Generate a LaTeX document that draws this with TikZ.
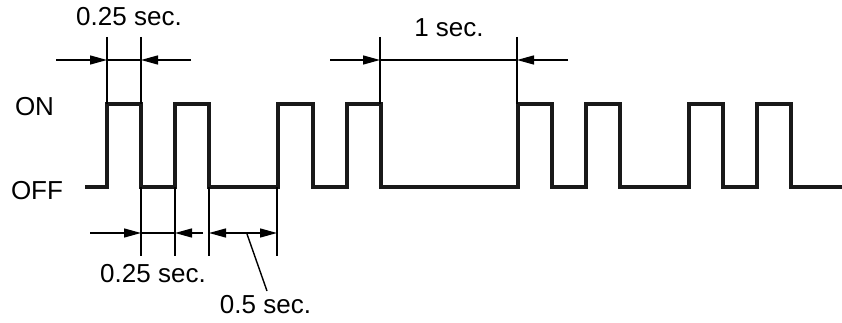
\documentclass[tikz,border=0pt]{standalone}
\usepackage{fontspec}
\setmainfont{Liberation Sans}
\usetikzlibrary{arrows.meta}
\begin{document}
\begin{tikzpicture}[x=1pt,y=-1pt,
  wave/.style={line width=3.3pt,line join=miter,draw=black!90},
  dimline/.style={line width=1.4pt},
  tip/.style={-{Triangle[length=17pt,width=9pt]},line width=1.4pt},
  lbl/.style={font=\fontsize{26}{26}\selectfont,inner sep=0pt,anchor=base}]
\useasboundingbox (0,0) rectangle (842,323);
% labels
\node[lbl] (on) at (34.5,116) {ON};
\node[lbl] (off) at (37,199) {OFF};
\node[lbl] (t1) at (129,26) {0.25 sec.};
\node[lbl] (t2) at (449,37) {1 sec.};
\node[lbl] (t3) at (153,282) {0.25 sec.};
\node[lbl] (t4) at (265.5,313) {0.5 sec.};
% waveform
\draw[wave] (85,187) -- (107,187) -- (107,104) -- (141,104) -- (141,187)
  -- (175,187) -- (175,104) -- (209,104) -- (209,187)
  -- (278,187) -- (278,104) -- (313,104) -- (313,187)
  -- (347,187) -- (347,104) -- (381,104) -- (381,187)
  -- (518,187) -- (518,104) -- (552,104) -- (552,187)
  -- (586,187) -- (586,104) -- (620,104) -- (620,187)
  -- (689,187) -- (689,104) -- (723,104) -- (723,187)
  -- (757,187) -- (757,104) -- (791,104) -- (791,187)
  -- (842,187);
% top 0.25 sec dimension
\coordinate (a1) at (107,37); \coordinate (a1b) at (107,104);
\coordinate (a2) at (141,37); \coordinate (a2b) at (141,104);
\coordinate (a1m) at (107,60); \coordinate (a2m) at (141,60);
\coordinate (a1s) at (56,60); \coordinate (a2s) at (191,60);
\draw[dimline] (a1) -- (a1b);
\draw[dimline] (a2) -- (a2b);
\draw[dimline] (a1m) -- (a2m);
\draw[tip] (a1s) -- (a1m);
\draw[tip] (a2s) -- (a2m);
% top 1 sec dimension
\coordinate (b1) at (380,37); \coordinate (b1b) at (380,104);
\coordinate (b2) at (517,37); \coordinate (b2b) at (517,104);
\coordinate (b1m) at (380,60); \coordinate (b2m) at (517,60);
\coordinate (b1s) at (330,60); \coordinate (b2s) at (568,60);
\draw[dimline] (b1) -- (b1b);
\draw[dimline] (b2) -- (b2b);
\draw[dimline] (b1m) -- (b2m);
\draw[tip] (b1s) -- (b1m);
\draw[tip] (b2s) -- (b2m);
% bottom 0.25 sec dimension
\coordinate (c1) at (141,187); \coordinate (c1b) at (141,256);
\coordinate (c2) at (175,187); \coordinate (c2b) at (175,256);
\coordinate (c1m) at (141,233); \coordinate (c2m) at (175,233);
\coordinate (c1s) at (90,233); \coordinate (c2s) at (203,233);
\draw[dimline] (c1) -- (c1b);
\draw[dimline] (c2) -- (c2b);
\draw[dimline] (c1m) -- (c2m);
\draw[tip] (c1s) -- (c1m);
\draw[tip] (c2s) -- (c2m);
% bottom 0.5 sec dimension
\coordinate (d1) at (209,187); \coordinate (d1b) at (209,256);
\coordinate (d2) at (277,187); \coordinate (d2b) at (277,256);
\coordinate (d1m) at (209,233); \coordinate (d2m) at (277,233);
\coordinate (dl) at (247,234); \coordinate (dle) at (267,291);
\draw[dimline] (d1) -- (d1b);
\draw[dimline] (d2) -- (d2b);
\draw[tip,{Triangle[length=17pt,width=9pt]}-{Triangle[length=17pt,width=9pt]}] (d1m) -- (d2m);
\draw[dimline] (dl) -- (dle);
\end{tikzpicture}
\end{document}
